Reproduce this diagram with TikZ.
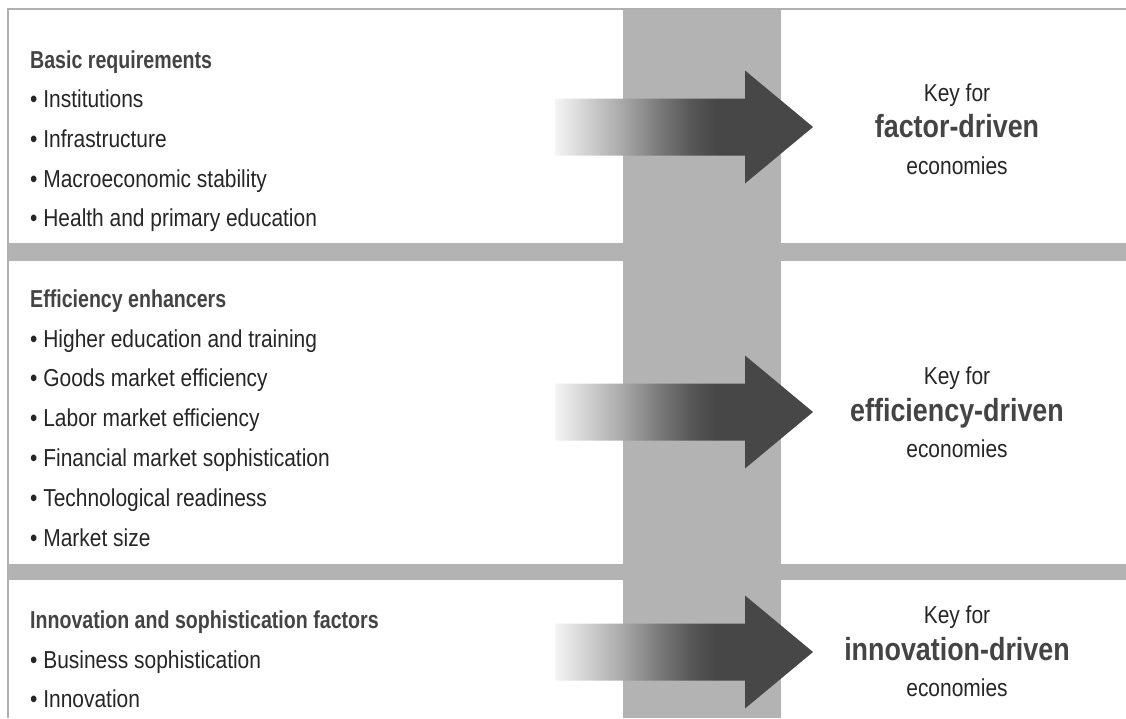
\documentclass[tikz,border=0pt]{standalone}
\usepackage{fontspec}
\setmainfont{Liberation Sans}[FakeStretch=0.855]
\newfontfamily\hdfont{Liberation Sans}[FakeStretch=0.80]
\newfontfamily\bigfont{Liberation Sans}[FakeStretch=0.84]
\definecolor{bandgray}{HTML}{B3B3B3}
\definecolor{linegray}{HTML}{B0B0B0}
\definecolor{arrowdark}{HTML}{474747}
\definecolor{txtgray}{HTML}{262626}
\definecolor{hdgray}{HTML}{444444}
\pgfdeclarehorizontalshading{arrowshade}{100bp}{color(0bp)=(white); color(25bp)=(black!4); color(32bp)=(black!20); color(38bp)=(black!34); color(45bp)=(black!52); color(51bp)=(black!65); color(56bp)=(arrowdark); color(100bp)=(arrowdark)}
\tikzset{
  hd/.style={anchor=base west, inner sep=0pt, text=hdgray, font=\hdfont\bfseries\fontsize{24.5}{27}\selectfont},
  item/.style={anchor=base west, inner sep=0pt, text=txtgray, font=\fontsize{24.5}{27}\selectfont},
  keytext/.style={anchor=base, inner sep=0pt, text=txtgray, font=\fontsize{24.5}{27}\selectfont},
  bigtext/.style={anchor=base, inner sep=0pt, text=hdgray, font=\bigfont\bfseries\fontsize{32}{35}\selectfont},
  band/.style={fill=bandgray, draw=none},
  border/.style={draw=linegray, line width=2pt},
  garrow/.pic={
    \path[shading=arrowshade] (555,-28.5) -- (745,-28.5) -- (745,-56.5) -- (813,0)
      -- (745,56.5) -- (745,28.5) -- (555,28.5) -- cycle;
  }
}
\begin{document}
\begin{tikzpicture}[x=1pt, y=-1pt]
\useasboundingbox (0,0) rectangle (1126,718);
\fill[white] (0,0) rectangle (1126,718);
% grey column and bands
\path[band] (623,10) rectangle (781,718);
\path[band] (7,243) rectangle (1126,261);
\path[band] (7,564) rectangle (1126,580);
% frame lines
\coordinate (tl) at (7.5,9);
\coordinate (tr) at (1126,9);
\coordinate (bl) at (7.5,718);
\draw[border] (tr) -- (tl) -- (bl);
% arrows
\pic at (0,127) {garrow};
\pic at (0,412) {garrow};
\pic at (0,652) {garrow};
% section 1
\node[hd] (h1) at (30,68) {Basic requirements};
\node[item] (i11) at (30,107) {• Institutions};
\node[item] (i12) at (30,147) {• Infrastructure};
\node[item] (i13) at (30,187) {• Macroeconomic stability};
\node[item] (i14) at (30,226) {• Health and primary education};
\node[keytext] (k1a) at (957,101) {Key for};
\node[bigtext] (k1b) at (957,137) {factor-driven};
\node[keytext] (k1c) at (957,174) {economies};
% section 2
\node[hd] (h2) at (30,307) {Efficiency enhancers};
\node[item] (i21) at (30,347) {• Higher education and training};
\node[item] (i22) at (30,386) {• Goods market efficiency};
\node[item] (i23) at (30,426) {• Labor market efficiency};
\node[item] (i24) at (30,466) {• Financial market sophistication};
\node[item] (i25) at (30,506) {• Technological readiness};
\node[item] (i26) at (30,546) {• Market size};
\node[keytext] (k2a) at (957,384) {Key for};
\node[bigtext] (k2b) at (957,421) {efficiency-driven};
\node[keytext] (k2c) at (957,457) {economies};
% section 3
\node[hd] (h3) at (30,628) {Innovation and sophistication factors};
\node[item] (i31) at (30,668) {• Business sophistication};
\node[item] (i32) at (30,707) {• Innovation};
\node[keytext] (k3a) at (957,623) {Key for};
\node[bigtext] (k3b) at (957,660) {innovation-driven};
\node[keytext] (k3c) at (957,696) {economies};
\end{tikzpicture}
\end{document}
